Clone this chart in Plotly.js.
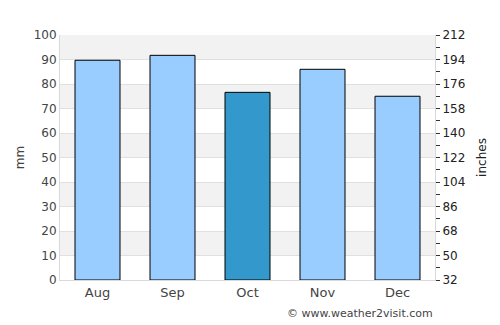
<!DOCTYPE html>
<html><head><meta charset="utf-8">
<script src="https://cdn.plot.ly/plotly-3.0.1.min.js"></script>
<style>html,body{margin:0;padding:0;background:#fff}</style>
</head><body><div id="chart" style="width:500px;height:325px"></div>
<script>
var months = ["Aug", "Sep", "Oct", "Nov", "Dec"];
var rainMm = [89.7, 91.7, 76.6, 86.0, 75.0];
var barColors = ["#99ccff", "#99ccff", "#3399cc", "#99ccff", "#99ccff"];
var leftTicks = [0, 10, 20, 30, 40, 50, 60, 70, 80, 90, 100];
var rightTicks = [32, 50, 68, 86, 104, 122, 140, 158, 176, 194, 212];

var shapes = [];
for (var i = 1; i < leftTicks.length; i += 2) {
  shapes.push({type: "rect", xref: "paper", yref: "y", x0: 0, x1: 1,
    y0: leftTicks[i], y1: leftTicks[i + 1] !== undefined ? leftTicks[i + 1] : leftTicks[i] + 10,
    fillcolor: "#f2f2f2", line: {width: 0}, layer: "below"});
}

var traces = [
  {type: "bar", x: months, y: rainMm, width: 0.6,
   marker: {color: barColors, line: {color: "#000", width: 1}},
   hoverinfo: "none", showlegend: false},
  {type: "scatter", x: months, y: [null, null, null, null, null], yaxis: "y2",
   showlegend: false, hoverinfo: "none"}
];

var ff = "DejaVu Sans";
var layout = {
  width: 500, height: 325,
  margin: {l: 60, r: 65, t: 35, b: 45},
  paper_bgcolor: "#fff", plot_bgcolor: "#fff",
  font: {family: ff, size: 12, color: "#444"},
  shapes: shapes,
  xaxis: {showgrid: false, showline: true, linecolor: "#d9d9d9", linewidth: 1,
    ticks: "", tickfont: {family: ff, size: 13, color: "#444"}},
  yaxis: {range: [0, 100], tickvals: leftTicks, showgrid: true, gridcolor: "#e0e0e0",
    zeroline: false, showline: true, linecolor: "#d9d9d9", ticks: "",
    tickfont: {family: ff, size: 12, color: "#444"},
    title: {text: "mm", font: {family: ff, size: 12, color: "#444"}, standoff: 6}},
  yaxis2: {overlaying: "y", side: "right", range: [32, 212], tickvals: rightTicks,
    showgrid: false, zeroline: false, showline: true, linecolor: "#d9d9d9",
    ticks: "outside", ticklen: 4, tickcolor: "#333",
    minor: {dtick: 9, tick0: 32, ticks: "outside", ticklen: 4, tickcolor: "#333", showgrid: false},
    tickfont: {family: ff, size: 12, color: "#222"},
    title: {text: "inches", font: {family: ff, size: 12, color: "#222"}, standoff: 13}},
  annotations: [{text: "© www.weather2visit.com", xref: "paper", yref: "paper",
    x: 1, y: 0, yshift: -33, xanchor: "right", yanchor: "middle", showarrow: false,
    font: {family: ff, size: 11, color: "#444"}}]
};
Plotly.newPlot("chart", traces, layout, {staticPlot: true, displayModeBar: false});
</script></body></html>
